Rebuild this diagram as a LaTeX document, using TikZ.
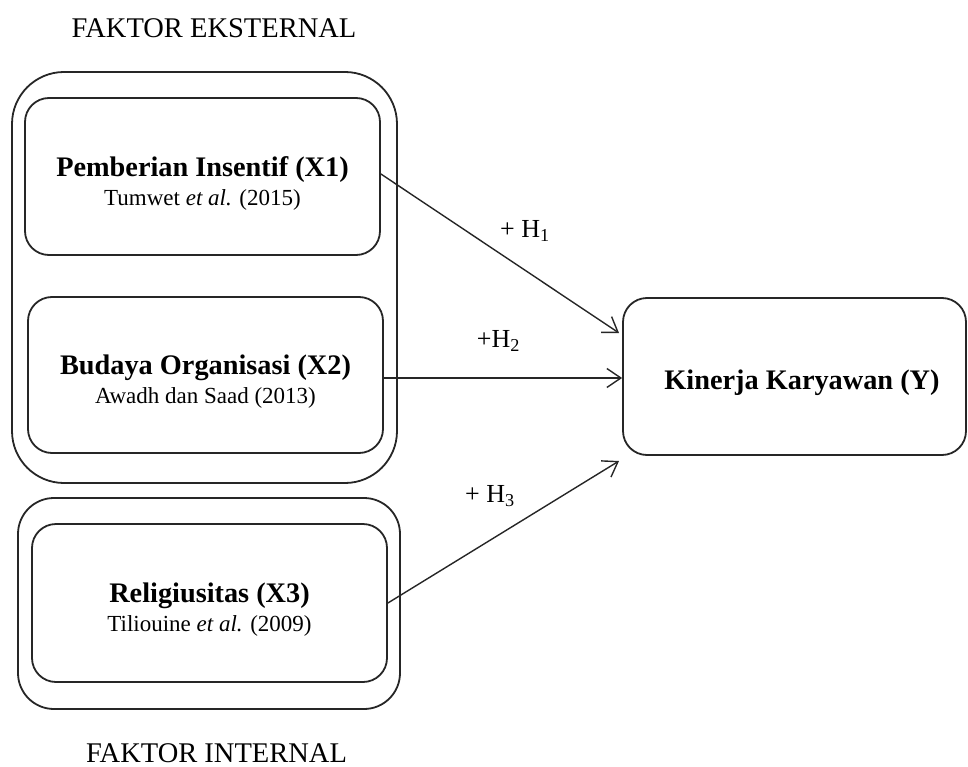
\documentclass[tikz,border=0pt]{standalone}
\usepackage{fontspec}
\setmainfont{Liberation Serif}
\usetikzlibrary{arrows.meta}
\begin{document}
\begin{tikzpicture}[x=1pt,y=-1pt,
  box/.style={draw=black!85, line width=1.8pt, rounded corners=24pt, align=center, inner sep=0pt,
    minimum width=355pt, minimum height=157pt, font=\fontsize{23}{29}\selectfont},
  group/.style={draw=black!85, line width=1.8pt, inner sep=0pt},
  conn/.style={draw=black!85, line width=1.4pt, -{Straight Barb[length=14pt,width=19pt,line width=1.4pt]}},
  hyp/.style={inner sep=0pt, font=\fontsize{26}{30}\selectfont},
  caption/.style={inner sep=0pt, font=\fontsize{28.5}{32}\selectfont}
]
\useasboundingbox (0,0) rectangle (968,767);

% group frames
\node[group, rounded corners=52pt, minimum width=385pt, minimum height=411pt] (ext) at (204.5,277.5) {};
\node[group, rounded corners=36pt, minimum width=382pt, minimum height=211pt] (int) at (209,603.5) {};

% variable boxes
\node[box] (X1) at (202.5,176.5) {\rule{0pt}{33pt}{\fontsize{28.3}{29}\selectfont\bfseries Pemberian Insentif (X1)}\\Tumwet \textit{et al.} (2015)};
\node[box, minimum height=156pt] (X2) at (205.5,375) {\rule{0pt}{33pt}{\fontsize{28.3}{29}\selectfont\bfseries Budaya Organisasi (X2)}\\Awadh dan Saad (2013)};
\node[box, minimum height=158pt] (X3) at (209.5,603) {\rule{0pt}{33pt}{\fontsize{28.3}{29}\selectfont\bfseries Religiusitas (X3)}\\Tiliouine \textit{et al.} (2009)};
\node[box, minimum width=343pt, minimum height=157pt] (Y) at (794.5,376.5) {\rule{0pt}{33pt}\hspace*{15pt}{\fontsize{28.3}{29}\selectfont\bfseries Kinerja Karyawan (Y)}};

% captions
\node[caption] (fe) at (214,28) {FAKTOR EKSTERNAL};
\node[caption] (fi) at (216.5,753) {FAKTOR INTERNAL};

% arrow end points
\coordinate (t1) at (619,333);
\coordinate (t3) at (619,461);

% connectors
\draw[conn] (X1.east |- 0,174) -- (t1);
\draw[conn] (X2.east |- 0,378) -- (Y.west |- 0,378);
\draw[conn] (X3.east) -- (t3);

% hypothesis labels
\node[hyp] (h1) at (525,231) {+ H\textsubscript{1}};
\node[hyp] (h2) at (498.5,341) {+H\textsubscript{2}};
\node[hyp] (h3) at (490,496) {+ H\textsubscript{3}};
\end{tikzpicture}
\end{document}
